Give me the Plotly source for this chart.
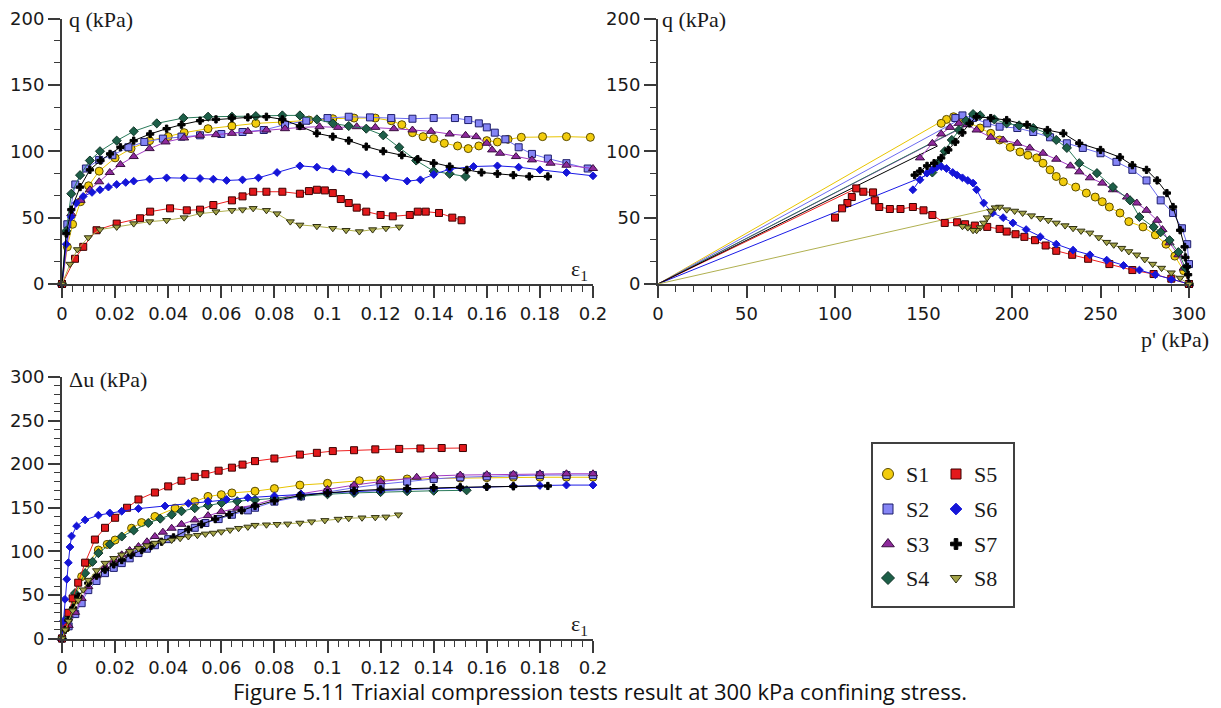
import plotly.graph_objects as go

W, H = 1221, 708

names = ["S1", "S2", "S3", "S4", "S5", "S6", "S7", "S8"]

# ---------------- Panel 1: q vs axial strain ----------------
eps_q = {
    "S1": [0, 0.002, 0.004, 0.007, 0.01, 0.014, 0.02, 0.026, 0.033, 0.04, 0.046, 0.055, 0.064, 0.073, 0.083, 0.093, 0.102, 0.11, 0.118, 0.124, 0.128, 0.132, 0.136, 0.14, 0.144, 0.149, 0.153, 0.157, 0.16, 0.164, 0.168, 0.173, 0.181, 0.19, 0.199],
    "S2": [0, 0.002, 0.005, 0.009, 0.014, 0.019, 0.025, 0.031, 0.038, 0.045, 0.052, 0.06, 0.068, 0.076, 0.084, 0.092, 0.1, 0.108, 0.116, 0.124, 0.132, 0.14, 0.148, 0.153, 0.157, 0.16, 0.163, 0.167, 0.172, 0.177, 0.183, 0.19, 0.198],
    "S3": [0, 0.0035, 0.007, 0.0105, 0.014, 0.018, 0.022, 0.027, 0.033, 0.039, 0.046, 0.052, 0.058, 0.064, 0.07, 0.077, 0.084, 0.09, 0.097, 0.104, 0.111, 0.118, 0.125, 0.132, 0.139, 0.146, 0.152, 0.156, 0.16, 0.162, 0.165, 0.171, 0.177, 0.184, 0.19, 0.2],
    "S4": [0, 0.0016, 0.0035, 0.0068, 0.0105, 0.0143, 0.0206, 0.027, 0.0357, 0.0457, 0.055, 0.064, 0.073, 0.083, 0.0896, 0.096, 0.102, 0.108, 0.1146, 0.121, 0.127, 0.1334, 0.14, 0.146, 0.152],
    "S5": [0, 0.0049, 0.008, 0.013, 0.0206, 0.0294, 0.0332, 0.0407, 0.047, 0.052, 0.057, 0.064, 0.068, 0.072, 0.077, 0.083, 0.0896, 0.093, 0.096, 0.099, 0.102, 0.105, 0.108, 0.111, 0.1146, 0.12, 0.1246, 0.131, 0.134, 0.137, 0.142, 0.147, 0.1505],
    "S6": [0, 0.0016, 0.0035, 0.0054, 0.008, 0.0113, 0.0143, 0.0175, 0.0206, 0.024, 0.027, 0.033, 0.0394, 0.046, 0.052, 0.057, 0.062, 0.068, 0.074, 0.081, 0.0896, 0.096, 0.102, 0.108, 0.1146, 0.122, 0.13, 0.135, 0.14, 0.146, 0.155, 0.164, 0.172, 0.18, 0.19, 0.2],
    "S7": [0, 0.0016, 0.0035, 0.0068, 0.0105, 0.0145, 0.0181, 0.022, 0.027, 0.0332, 0.0394, 0.045, 0.052, 0.058, 0.064, 0.07, 0.077, 0.083, 0.0896, 0.096, 0.102, 0.108, 0.1146, 0.121, 0.128, 0.134, 0.14, 0.146, 0.1525, 0.158, 0.164, 0.17, 0.176, 0.183],
    "S8": [0, 0.003, 0.0058, 0.0099, 0.0143, 0.0206, 0.027, 0.033, 0.0394, 0.046, 0.052, 0.058, 0.064, 0.068, 0.072, 0.077, 0.081, 0.086, 0.0896, 0.096, 0.102, 0.107, 0.112, 0.117, 0.122, 0.127],
}
q_eps = {
    "S1": [0, 28, 45, 62, 74, 85, 95, 102, 108, 111, 114, 117, 119, 121, 122, 123.5, 124.5, 125, 125, 123, 120, 114, 111, 109.5, 106, 104, 102, 104, 108, 107, 109, 110.5, 111, 111, 110.5],
    "S2": [0, 45, 75, 87, 93.5, 97, 103, 107, 109.5, 111, 112, 113, 114.5, 116, 120, 123, 125, 126, 125.5, 125, 124.5, 125, 125, 123.5, 121, 118, 114, 109, 103, 98, 94.5, 91, 87],
    "S3": [0, 53, 63, 71, 77, 84, 90, 96, 102, 107, 110, 112, 112.5, 113.5, 115, 116, 117, 118, 118.5, 118, 118.5, 118, 117, 116, 115, 113, 112, 111, 106, 101, 98.5, 96, 93.5, 91, 89.5, 87],
    "S4": [0, 40, 68, 82, 93, 100, 108, 115, 121, 125, 126, 126, 126.5, 127, 127, 124, 121, 119, 117, 112, 103, 93, 85, 83, 81],
    "S5": [0, 19, 28, 40.5, 45.5, 49.5, 54.5, 57, 55.5, 56, 59.5, 63, 66, 69.5, 69.5, 69.5, 68, 70, 71, 70.5, 68.5, 64, 61, 57.5, 54.5, 52, 51, 52, 54.5, 54.5, 53.5, 50, 48],
    "S6": [0, 30, 50.5, 61, 66, 69, 71, 73, 75, 76.5, 77.5, 79, 80, 80, 79.5, 79, 78, 78.5, 80, 84, 89, 88, 86.5, 84.5, 82.5, 80, 77.5, 78.5, 82.5, 86.5, 88.5, 89, 88, 86, 84, 81.5],
    "S7": [0, 38, 56, 73, 86, 93, 98, 103, 108, 113, 117, 120, 123, 124, 125, 125.5, 126, 124, 119, 113.5, 111, 108, 103.5, 100, 97, 94, 91, 88.5, 86, 84, 83, 82, 81, 81],
    "S8": [0, 15, 26, 35, 41, 43, 45.5, 47, 48, 50, 53, 54.5, 55.5, 56, 57, 55.5, 53, 47, 44.5, 43.5, 42, 40.5, 39.5, 41, 42, 43],
}

# ---------------- Panel 2: q vs p' ----------------
p_path = {
    "S1": [300, 297, 292, 287, 281, 274, 266, 261, 255, 251, 247, 242, 236, 229, 225, 221.5, 217.5, 214, 209, 204.5, 199, 193, 188, 182, 176, 171, 167, 163, 160],
    "S2": [300, 300, 299, 296, 291, 284, 276, 268, 259, 250, 240, 231, 221.5, 212, 203, 193, 186, 178, 172, 168],
    "S3": [300, 297, 294, 289, 285, 282, 276, 270.5, 265, 257, 251, 244, 238, 233, 225, 217.5, 210, 203, 195, 188, 180, 174.5, 170, 165, 160, 155, 148],
    "S4": [300, 298, 294, 289, 284, 280, 272, 266.7, 257, 248, 238, 231, 225, 220, 212, 204, 197, 190, 182, 178, 174, 170, 166, 162, 158, 155],
    "S5": [300, 290, 280, 268, 255, 243, 234, 225, 219, 213, 207, 202, 197, 193, 186, 179, 173.5, 169, 162, 155, 150, 144, 137, 131, 125, 122.5, 121.5, 116, 112, 109.5, 107, 104, 100],
    "S6": [300, 290, 281, 272, 263, 253.5, 244, 234.5, 225, 216, 208, 200.5, 195, 189, 184, 180, 178, 175, 172, 169, 166.5, 163, 160, 157.5, 155, 152, 148, 144],
    "S7": [300, 299.5, 299, 298, 297.5, 295, 291, 287.5, 282, 276, 268, 261, 250, 238, 229, 220, 208.5, 197, 188, 180, 176, 172, 168, 164, 160, 156, 152, 148, 145],
    "S8": [300, 295, 290, 284.5, 279.5, 275, 270.5, 266, 262, 257.5, 253.5, 249, 244, 239, 234.5, 230, 225, 220.5, 216, 211, 206, 201.5, 197, 193, 190.5, 188, 186, 184, 182, 180, 178, 175, 172],
}
q_path = {
    "S1": [0, 10, 21, 30, 37, 43, 47, 53.5, 58, 62, 65.5, 68.5, 73, 77, 81, 86, 91, 95, 97, 99.5, 103, 108.5, 113.5, 117.5, 121.5, 124.5, 126, 124, 121],
    "S2": [0, 15, 30, 42, 53.5, 63, 78, 86, 92, 98.5, 102.5, 106, 110.5, 114.5, 117.5, 118.5, 121, 125, 127, 125],
    "S3": [0, 12, 22, 31, 41, 48, 55.5, 61, 65.5, 71, 76, 80, 84.5, 89, 94, 98.5, 102.5, 106, 108.5, 110.5, 116, 120, 121, 118, 113, 106, 95],
    "S4": [0, 12, 24, 33, 39, 43, 50.5, 63, 73, 83.5, 91, 102.5, 108.5, 113.5, 117.5, 119.5, 121, 124, 127, 128, 123, 116, 108.5, 100, 91, 84],
    "S5": [0, 4, 7.5, 10.5, 15, 19, 22, 25, 29, 33, 35.5, 37.5, 39.5, 41.5, 43, 44, 45, 46.5, 46, 52, 55.5, 58, 56.5, 56.5, 58, 63, 69, 69.5, 72, 65.5, 61, 57, 50],
    "S6": [0, 3.5, 7, 10.5, 14, 18, 22, 25.5, 30, 35.5, 41, 46, 50, 53.5, 61, 71, 76, 78, 80, 82, 84, 87, 88.5, 88, 86, 83.5, 78.5, 71],
    "S7": [0, 7, 13, 20, 28, 40.5, 58, 68.5, 78, 86, 89.5, 95.5, 101, 106, 113.5, 116, 120, 123.5, 125, 126, 121, 114, 107, 101, 95, 91, 89, 85, 82],
    "S8": [0, 4.5, 8.5, 12, 15, 18.5, 22, 24.5, 27, 29.5, 31.5, 35, 38.5, 40, 42, 44, 46, 48, 49.5, 51.5, 53.5, 55, 56, 58, 57.5, 55, 50, 46, 42.5, 40.5, 40.5, 42.5, 43.5],
}
# straight segments from the origin drawn for each test (end point)
origin_line_p = {"S1": 166, "S2": 172, "S3": 178, "S4": 176, "S5": 112, "S6": 152, "S7": 158, "S8": 193}
origin_line_q = {"S1": 127, "S2": 125, "S3": 122, "S4": 121, "S5": 72, "S6": 82, "S7": 104, "S8": 58}

# ---------------- Panel 3: excess pore pressure vs axial strain ----------------
eps_u = {
    "S1": [0, 0.0015, 0.003, 0.0049, 0.0074, 0.0099, 0.0137, 0.017, 0.02, 0.0262, 0.03, 0.035, 0.0426, 0.05, 0.055, 0.06, 0.064, 0.0727, 0.08, 0.0896, 0.1, 0.112, 0.12, 0.13, 0.14, 0.15, 0.16, 0.17, 0.18, 0.19, 0.2],
    "S2": [0, 0.0025, 0.005, 0.0074, 0.0099, 0.013, 0.0162, 0.0195, 0.0225, 0.0255, 0.0288, 0.032, 0.035, 0.04, 0.045, 0.05, 0.054, 0.059, 0.064, 0.07, 0.0727, 0.08, 0.09, 0.1, 0.11, 0.12, 0.13, 0.14, 0.15, 0.16, 0.17, 0.18, 0.19, 0.2],
    "S3": [0, 0.0025, 0.0049, 0.0074, 0.0099, 0.013, 0.0162, 0.0195, 0.0225, 0.0255, 0.0288, 0.032, 0.035, 0.038, 0.0413, 0.045, 0.05, 0.055, 0.06, 0.066, 0.0727, 0.08, 0.09, 0.1, 0.11, 0.12, 0.1336, 0.14, 0.15, 0.16, 0.17, 0.18, 0.19, 0.2],
    "S4": [0, 0.0012, 0.0024, 0.0049, 0.0087, 0.0115, 0.0137, 0.018, 0.0225, 0.027, 0.0325, 0.037, 0.0413, 0.045, 0.05, 0.055, 0.0601, 0.066, 0.0727, 0.08, 0.09, 0.1, 0.11, 0.12, 0.13, 0.14, 0.1524],
    "S5": [0, 0.0012, 0.0024, 0.004, 0.0061, 0.0087, 0.0124, 0.0162, 0.02, 0.0245, 0.0288, 0.035, 0.04, 0.045, 0.05, 0.054, 0.059, 0.064, 0.068, 0.0727, 0.08, 0.0896, 0.096, 0.102, 0.11, 0.118, 0.127, 0.135, 0.143, 0.151],
    "S6": [0, 0.0005, 0.0011, 0.0018, 0.0024, 0.003, 0.0036, 0.0055, 0.0087, 0.0137, 0.018, 0.0225, 0.0288, 0.0388, 0.0476, 0.055, 0.062, 0.07, 0.08, 0.09, 0.1, 0.11, 0.12, 0.13, 0.14, 0.15, 0.16, 0.17, 0.18, 0.19, 0.2],
    "S7": [0, 0.0012, 0.0024, 0.0042, 0.0061, 0.0099, 0.013, 0.0162, 0.0195, 0.0225, 0.026, 0.03, 0.0335, 0.0375, 0.042, 0.0476, 0.0525, 0.0577, 0.063, 0.0677, 0.0727, 0.08, 0.0896, 0.1, 0.11, 0.12, 0.13, 0.14, 0.15, 0.16, 0.17, 0.183],
    "S8": [0, 0.0012, 0.0025, 0.004, 0.0061, 0.008, 0.0099, 0.013, 0.0162, 0.0195, 0.0225, 0.0255, 0.0288, 0.032, 0.035, 0.038, 0.0413, 0.0445, 0.0476, 0.051, 0.054, 0.057, 0.06, 0.0633, 0.0665, 0.07, 0.0727, 0.077, 0.081, 0.085, 0.0896, 0.094, 0.099, 0.104, 0.108, 0.113, 0.118, 0.122, 0.1267],
}
du_eps = {
    "S1": [0, 12, 28, 44, 71, 86.5, 101.5, 108, 113, 126.5, 133, 140, 149.5, 157, 163, 165, 167, 169, 172, 176, 178, 181, 182, 183, 183.5, 184, 184.5, 185, 185, 185, 185],
    "S2": [0, 14, 28, 40.5, 55.5, 66, 75, 81, 86.5, 92, 98, 103, 107, 114, 121, 127, 132.5, 137, 142, 147, 150, 157, 163, 168, 173, 177, 180, 183, 185, 186, 187, 187.5, 187.5, 187.5],
    "S3": [0, 15, 30, 46, 59.5, 72, 82.5, 90, 96, 101, 105.5, 111, 117, 122, 126.5, 131, 136, 141, 145.5, 149.5, 153.5, 160, 166, 171, 176, 180, 185, 186.5, 187.5, 188, 188.5, 189, 189, 189],
    "S4": [0, 12, 25, 52, 75, 88, 98, 108, 117, 124, 132.5, 137.5, 142, 146, 149.5, 152.5, 155.5, 157.5, 159, 161, 163.5, 165.5, 167, 168, 169, 169.5, 170],
    "S5": [0, 14, 29.5, 46, 64, 87, 113.5, 127, 138.5, 150, 159.5, 167.5, 174.5, 181, 185.5, 188.5, 192.5, 196, 199.5, 203.5, 206.5, 211, 213, 215, 216, 217, 217.5, 218, 218.5, 218.5],
    "S6": [0, 20, 45, 68, 87, 105, 117.5, 129, 136, 141.5, 144, 146, 149, 152, 155, 157.5, 159.5, 161.5, 163.5, 165.5, 167, 168.5, 170, 171, 172, 173, 174, 175, 175.5, 176, 176],
    "S7": [0, 10, 21, 35, 48, 63.5, 72, 79, 85, 90, 96, 101.5, 106, 111, 116, 125, 131, 137, 142, 147, 152, 158, 164, 167, 169.5, 171, 172, 173, 173.5, 174, 174.5, 175],
    "S8": [0, 10, 20, 32, 44, 56, 67, 78, 86.5, 92, 96, 100, 103.5, 106.5, 109.5, 111.5, 113, 115, 117, 118.5, 120, 121, 122.5, 124.5, 126.5, 128, 130, 130.5, 131, 131.5, 132.5, 134, 135.5, 137, 138, 138.5, 139, 139.5, 142],
}

# tick labels
eps_ticks = [0, 0.02, 0.04, 0.06, 0.08, 0.1, 0.12, 0.14, 0.16, 0.18, 0.2]
eps_tick_text = ["0", "0.02", "0.04", "0.06", "0.08", "0.1", "0.12", "0.14", "0.16", "0.18", "0.2"]
q_ticks = [0, 50, 100, 150, 200]
p_ticks = [0, 50, 100, 150, 200, 250, 300]
u_ticks = [0, 50, 100, 150, 200, 250, 300]

# ---------------- styles ----------------
style = {
    "S1": dict(symbol="circle", size=8, fill="#f2cc0c", edge="#5a4b00", line="#e8c400"),
    "S2": dict(symbol="square", size=7, fill="#8585f5", edge="#1d1d6b", line="#6c6cf0"),
    "S3": dict(symbol="triangle-up", size=8, fill="#8e2a9c", edge="#3a0f40", line="#a43cc4"),
    "S4": dict(symbol="diamond", size=7, fill="#1d5f48", edge="#0f3326", line="#2a7a5a"),
    "S5": dict(symbol="square", size=7, fill="#e3191c", edge="#3a0000", line="#ee2020"),
    "S6": dict(symbol="diamond", size=6, fill="#1515d8", edge="#1515d8", line="#1a1ae6"),
    "S7": dict(symbol="cross", size=6, fill="#000000", edge="#000000", line="#000000"),
    "S8": dict(symbol="triangle-down", size=7, fill="#a3a348", edge="#2f2f10", line="#b0b050"),
}

fig = go.Figure()


def marker_of(s):
    st = style[s]
    return dict(symbol=st["symbol"], size=st["size"], color=st["fill"],
                line=dict(color=st["edge"], width=1))


def add(x, y, s, xa, ya, mode="lines+markers"):
    st = style[s]
    fig.add_trace(go.Scatter(x=x, y=y, mode=mode, xaxis=xa, yaxis=ya,
                             line=dict(color=st["line"], width=1),
                             marker=marker_of(s), showlegend=False, hoverinfo="skip",
                             cliponaxis=False))


for s in names:
    add(eps_q[s], q_eps[s], s, "x", "y")
for s in names:
    add([0, origin_line_p[s]], [0, origin_line_q[s]], s, "x2", "y2", mode="lines")
for s in names:
    add(p_path[s], q_path[s], s, "x2", "y2")
for s in names:
    add(eps_u[s], du_eps[s], s, "x3", "y3")

# legend markers (layout decoration in pixel space)
leg_x = [888, 956]
leg_text_x = [904, 972]
leg_y = [474, 509, 544, 578]
for i, s in enumerate(names):
    col, row = divmod(i, 4)
    fig.add_trace(go.Scatter(x=[leg_x[col]], y=[leg_y[row]], mode="markers", xaxis="x4", yaxis="y4",
                             marker=dict(marker_of(s), size=style[s]["size"] + 3),
                             showlegend=False, hoverinfo="skip"))

AX = "#3a3a3a"
TICKFONT = dict(family="DejaVu Sans", size=18, color="#1a1a1a")


def axis(domain, rng, tickvals, ticktext=None, minor_dtick=None, anchor=None):
    d = dict(domain=domain, range=rng, showline=True, linecolor=AX, linewidth=2,
             ticks="outside", ticklen=12, tickwidth=1.5, tickcolor=AX,
             showgrid=False, zeroline=False, tickfont=TICKFONT, automargin=False,
             tickmode="array", tickvals=tickvals, fixedrange=True,
             minor=dict(ticks="outside", ticklen=6, tickwidth=1.2, tickcolor=AX,
                        dtick=minor_dtick, tick0=0, showgrid=False))
    if ticktext is not None:
        d["ticktext"] = ticktext
    if anchor:
        d["anchor"] = anchor
    return d


x1d = [62 / W, 593 / W]
x2d = [658 / W, 1189 / W]
ytop = [(H - 284) / H, (H - 18.5) / H]
ybot = [(H - 638.5) / H, (H - 377) / H]

fig.update_layout(
    width=W, height=H, margin=dict(l=0, r=0, t=0, b=0, pad=0, autoexpand=False),
    paper_bgcolor="white", plot_bgcolor="rgba(0,0,0,0)", showlegend=False,
    xaxis=axis(x1d, [0, 0.2], eps_ticks, eps_tick_text, 0.004, "y"),
    yaxis=axis(ytop, [0, 200], q_ticks, None, 50 / 3, "x"),
    xaxis2=axis(x2d, [0, 300], p_ticks, None, 10, "y2"),
    yaxis2=axis(ytop, [0, 200], q_ticks, None, 50 / 3, "x2"),
    xaxis3=axis(x1d, [0, 0.2], eps_ticks, eps_tick_text, 0.004, "y3"),
    yaxis3=axis(ybot, [0, 300], u_ticks, None, 10, "x3"),
    xaxis4=dict(domain=[0, 1], range=[0, W], visible=False, anchor="y4", fixedrange=True, automargin=False),
    yaxis4=dict(domain=[0, 1], range=[H, 0], visible=False, anchor="x4", fixedrange=True, automargin=False),
)

SERIF = "Liberation Serif"


def px_ann(text, x, y, size=22, family=SERIF, xanchor="left", color="#1a1a1a", yanchor="middle"):
    fig.add_annotation(text=text, x=x / W, y=1 - y / H, xref="paper", yref="paper",
                       xanchor=xanchor, yanchor=yanchor, showarrow=False,
                       font=dict(family=family, size=size, color=color))


px_ann("q (kPa)", 67, 20)
px_ann("q (kPa)", 660, 20)
px_ann("p' (kPa)", 1139, 339)
px_ann("ε<sub>1</sub>", 569, 270, size=22)
px_ann("Δu (kPa)", 67, 379)
px_ann("ε<sub>1</sub>", 569, 625, size=22)
px_ann("Figure 5.11 Triaxial compression tests result at 300 kPa confining stress.",
       600, H, size=22, family="Open Sans", xanchor="center", color="#111", yanchor="bottom")

for i, s in enumerate(names):
    col, row = divmod(i, 4)
    px_ann(s, leg_text_x[col], leg_y[row], size=22)

fig.add_shape(type="rect", xref="paper", yref="paper",
              x0=872 / W, x1=1014 / W, y0=1 - 607 / H, y1=1 - 443 / H,
              line=dict(color="#404040", width=2), fillcolor="rgba(0,0,0,0)")

fig.write_html("out.html")
